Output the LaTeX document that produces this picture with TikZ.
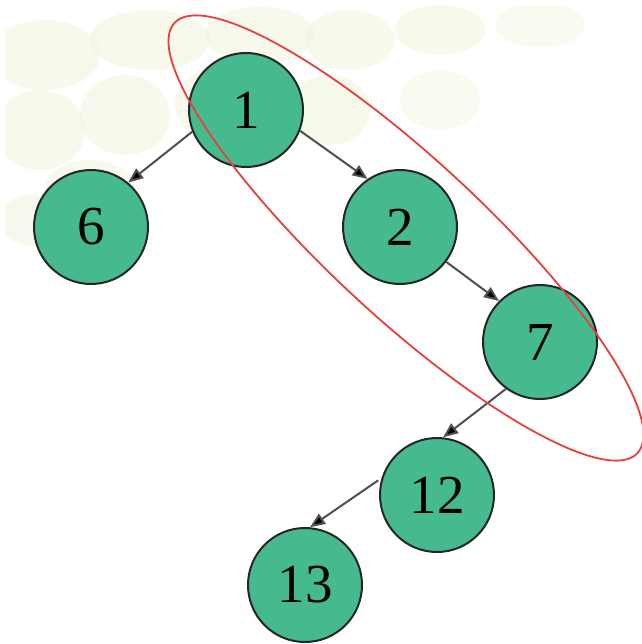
\documentclass[tikz,border=0pt]{standalone}
\usepackage{fontspec}
\setmainfont{Liberation Serif}
\usetikzlibrary{arrows.meta}
\definecolor{nodegreen}{RGB}{69,186,142}
\definecolor{edgegray}{RGB}{80,80,80}
\definecolor{ringred}{RGB}{232,64,60}
\definecolor{blob}{RGB}{242,245,222}
\begin{document}
\begin{tikzpicture}[x=1pt,y=-1pt,
  treenode/.style={circle,draw=black!85,line width=2pt,fill=nodegreen,
    minimum size=114pt,inner sep=0pt,font=\fontsize{55}{55}\selectfont},
  edge/.style={draw=edgegray,line width=2pt,
    -{Triangle[length=15pt,width=12pt,fill=black]}},
  bubble/.style={fill=blob,draw=none}]
\useasboundingbox (0,0) rectangle (641,644);
\fill[white] (0,0) rectangle (641,644);
% faint background pattern
\begin{scope}[opacity=0.55]
\fill[bubble] (45,55) ellipse (55 and 35);
\fill[bubble] (150,40) ellipse (60 and 30);
\fill[bubble] (260,35) ellipse (55 and 28);
\fill[bubble] (40,130) ellipse (45 and 40);
\fill[bubble] (125,115) ellipse (45 and 40);
\fill[bubble] (215,105) ellipse (40 and 35);
\fill[bubble] (90,190) ellipse (45 and 30);
\fill[bubble] (350,40) ellipse (45 and 30);
\fill[bubble,opacity=0.6] (440,30) ellipse (45 and 25);
\fill[bubble,opacity=0.6] (330,110) ellipse (40 and 35);
\fill[bubble,opacity=0.4] (540,25) ellipse (45 and 22);
\fill[bubble,opacity=0.4] (440,100) ellipse (40 and 30);
\fill[bubble,opacity=0.5] (30,220) ellipse (30 and 25);
\end{scope}
\fill[white] (0,0) rectangle (641,5);
\fill[white] (0,0) rectangle (5,644);
% nodes
\node[treenode] (n1)  at (246,110) {1};
\node[treenode] (n6)  at (91,227)  {6};
\node[treenode] (n2)  at (400,227) {2};
\node[treenode] (n7)  at (540,342) {7};
\node[treenode] (n12) at (437,495) {12};
\node[treenode] (n13) at (305,585) {13};
% connectors
\draw[edge] (n1.202) -- (n6.50);
\draw[edge] (n1.339) -- (n2.124);
\draw[edge] (n2.323) -- (n7.135);
\draw[edge] (n7.234) -- (n12.84);
\draw[edge,shorten <=4pt] (n12.163) -- (n13.85);
% red ring
\draw[ringred,line width=1.8pt,rotate around={-42.9:(406,238)}] (406,238) ellipse (316 and 78);
\end{tikzpicture}
\end{document}
